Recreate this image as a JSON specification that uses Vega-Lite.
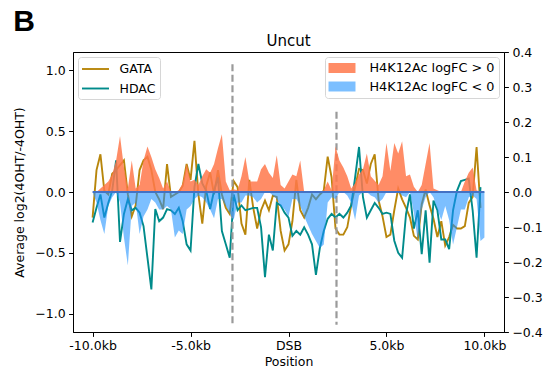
{
  "$schema": "https://vega.github.io/schema/vega-lite/v6.json",
  "autosize": {"type": "pad"},
  "padding": {"left": 13, "top": 6, "right": 0, "bottom": 0},
  "title": {"text": "B", "anchor": "start", "frame": "bounds", "font": "Liberation Sans", "fontSize": 30, "fontWeight": "bold", "color": "#000", "offset": -3},
  "config": {
    "font": "DejaVu Sans",
    "view": {"stroke": "#000", "strokeWidth": 1},
    "axis": {"labelFont": "DejaVu Sans", "labelFontSize": 12.5, "labelColor": "#000", "titleFont": "DejaVu Sans", "titleFontSize": 12.5, "titleFontWeight": "normal", "titleColor": "#000", "domainColor": "#000", "domainWidth": 1, "tickColor": "#000", "tickWidth": 1, "tickSize": 4.4, "labelPadding": 3.5, "grid": false, "labelOverlap": false, "labelFlush": false},
    "legend": {"labelFont": "DejaVu Sans", "labelFontSize": 12.5, "labelColor": "#000", "strokeColor": "#d6d6d6", "strokeWidth": 1, "cornerRadius": 3, "fillColor": "rgba(255,255,255,0.8)", "padding": 4, "offset": 5, "rowPadding": 4.5, "symbolOffset": 6}
  },
  "datasets": {
    "profile": [
      {"x": -10000, "GATA": -0.21, "HDAC": -0.25, "pos": 0, "neg": 0},
      {"x": -9800, "GATA": 0.18, "HDAC": -0.13, "pos": 0, "neg": -0.03},
      {"x": -9600, "GATA": 0.31, "HDAC": -0.02, "pos": 0.01, "neg": -0.08},
      {"x": -9400, "GATA": 0.01, "HDAC": -0.21, "pos": 0.02, "neg": -0.12},
      {"x": -9200, "GATA": -0.02, "HDAC": -0.09, "pos": 0.03, "neg": -0.04},
      {"x": -9000, "GATA": 0.15, "HDAC": 0.01, "pos": 0.05, "neg": -0.015},
      {"x": -8800, "GATA": 0.18, "HDAC": 0.26, "pos": 0.09, "neg": 0},
      {"x": -8600, "GATA": 0.22, "HDAC": -0.41, "pos": 0.16, "neg": -0.03},
      {"x": -8400, "GATA": 0.26, "HDAC": -0.18, "pos": 0.07, "neg": -0.13},
      {"x": -8200, "GATA": -0.02, "HDAC": -0.06, "pos": 0.01, "neg": -0.21},
      {"x": -8000, "GATA": -0.2, "HDAC": -0.15, "pos": 0.09, "neg": -0.04},
      {"x": -7800, "GATA": -0.11, "HDAC": -0.13, "pos": 0.01, "neg": -0.03},
      {"x": -7600, "GATA": 0.18, "HDAC": -0.17, "pos": 0.02, "neg": -0.12},
      {"x": -7400, "GATA": 0.26, "HDAC": -0.28, "pos": 0.09, "neg": -0.07},
      {"x": -7200, "GATA": 0.29, "HDAC": -0.54, "pos": 0.13, "neg": -0.05},
      {"x": -7000, "GATA": 0.18, "HDAC": -0.8, "pos": 0.1, "neg": -0.02},
      {"x": -6800, "GATA": 0.0, "HDAC": -0.14, "pos": 0.065, "neg": -0.03},
      {"x": -6600, "GATA": -0.06, "HDAC": -0.24, "pos": 0.04, "neg": -0.05},
      {"x": -6400, "GATA": -0.14, "HDAC": -0.21, "pos": 0.01, "neg": -0.05},
      {"x": -6200, "GATA": 0.23, "HDAC": -0.14, "pos": 0.03, "neg": -0.04},
      {"x": -6000, "GATA": -0.04, "HDAC": -0.15, "pos": 0, "neg": -0.05},
      {"x": -5800, "GATA": -0.02, "HDAC": -0.18, "pos": 0, "neg": -0.13},
      {"x": -5600, "GATA": 0.0, "HDAC": -0.13, "pos": 0.005, "neg": -0.11},
      {"x": -5400, "GATA": 0.05, "HDAC": -0.24, "pos": 0.025, "neg": -0.12},
      {"x": -5200, "GATA": 0.23, "HDAC": -0.43, "pos": 0.08, "neg": -0.05},
      {"x": -5000, "GATA": 0.1, "HDAC": -0.48, "pos": 0.03, "neg": -0.04},
      {"x": -4800, "GATA": 0.42, "HDAC": 0.04, "pos": 0.035, "neg": -0.02},
      {"x": -4600, "GATA": -0.02, "HDAC": 0.23, "pos": 0.02, "neg": -0.01},
      {"x": -4400, "GATA": -0.26, "HDAC": 0.07, "pos": 0.045, "neg": -0.015},
      {"x": -4200, "GATA": 0.05, "HDAC": 0.01, "pos": 0.065, "neg": -0.03},
      {"x": -4000, "GATA": 0.16, "HDAC": -0.14, "pos": 0.055, "neg": -0.05},
      {"x": -3800, "GATA": -0.02, "HDAC": 0.01, "pos": 0.08, "neg": -0.075},
      {"x": -3600, "GATA": 0.18, "HDAC": 0.12, "pos": 0.125, "neg": -0.02},
      {"x": -3400, "GATA": -0.02, "HDAC": -0.32, "pos": 0.165, "neg": -0.02},
      {"x": -3200, "GATA": -0.13, "HDAC": -0.43, "pos": 0.03, "neg": -0.04},
      {"x": -3000, "GATA": -0.18, "HDAC": -0.54, "pos": 0.005, "neg": -0.06},
      {"x": -2800, "GATA": 0.09, "HDAC": -0.02, "pos": 0.008, "neg": -0.08},
      {"x": -2600, "GATA": 0.04, "HDAC": -0.15, "pos": 0.005, "neg": -0.03},
      {"x": -2400, "GATA": -0.26, "HDAC": -0.11, "pos": 0.045, "neg": -0.03},
      {"x": -2200, "GATA": -0.35, "HDAC": -0.15, "pos": 0.1, "neg": -0.01},
      {"x": -2000, "GATA": 0.1, "HDAC": -0.14, "pos": 0.03, "neg": -0.01},
      {"x": -1800, "GATA": -0.13, "HDAC": -0.13, "pos": 0.03, "neg": -0.015},
      {"x": -1600, "GATA": -0.3, "HDAC": -0.13, "pos": 0.03, "neg": -0.03},
      {"x": -1400, "GATA": -0.15, "HDAC": -0.29, "pos": 0.065, "neg": -0.02},
      {"x": -1200, "GATA": -0.07, "HDAC": -0.7, "pos": 0.08, "neg": 0},
      {"x": -1000, "GATA": -0.15, "HDAC": -0.35, "pos": 0.055, "neg": 0},
      {"x": -800, "GATA": -0.03, "HDAC": -0.48, "pos": 0.04, "neg": -0.01},
      {"x": -600, "GATA": -0.04, "HDAC": -0.09, "pos": 0.105, "neg": -0.02},
      {"x": -400, "GATA": -0.32, "HDAC": -0.11, "pos": 0.02, "neg": -0.04},
      {"x": -200, "GATA": -0.48, "HDAC": -0.17, "pos": 0.01, "neg": -0.05},
      {"x": 0, "GATA": -0.43, "HDAC": -0.21, "pos": 0.03, "neg": -0.07},
      {"x": 200, "GATA": -0.24, "HDAC": -0.36, "pos": 0.05, "neg": -0.02},
      {"x": 400, "GATA": 0.1, "HDAC": -0.32, "pos": 0.045, "neg": -0.02},
      {"x": 600, "GATA": -0.15, "HDAC": -0.35, "pos": 0.09, "neg": -0.04},
      {"x": 800, "GATA": -0.21, "HDAC": -0.29, "pos": 0, "neg": -0.07},
      {"x": 1000, "GATA": -0.13, "HDAC": -0.35, "pos": 0, "neg": -0.095},
      {"x": 1200, "GATA": -0.02, "HDAC": -0.43, "pos": 0, "neg": -0.12},
      {"x": 1400, "GATA": -0.06, "HDAC": -0.68, "pos": 0, "neg": -0.14},
      {"x": 1600, "GATA": -0.02, "HDAC": -0.46, "pos": 0, "neg": -0.16},
      {"x": 1800, "GATA": 0.01, "HDAC": -0.32, "pos": 0.005, "neg": -0.15},
      {"x": 2000, "GATA": 0.29, "HDAC": -0.22, "pos": 0.03, "neg": -0.03},
      {"x": 2200, "GATA": 0.12, "HDAC": -0.18, "pos": 0.005, "neg": -0.015},
      {"x": 2400, "GATA": -0.3, "HDAC": -0.21, "pos": 0.13, "neg": -0.02},
      {"x": 2600, "GATA": -0.35, "HDAC": -0.18, "pos": 0.09, "neg": 0},
      {"x": 2800, "GATA": -0.35, "HDAC": -0.21, "pos": 0.07, "neg": 0},
      {"x": 3000, "GATA": -0.29, "HDAC": -0.17, "pos": 0.045, "neg": -0.01},
      {"x": 3200, "GATA": -0.11, "HDAC": -0.11, "pos": 0.01, "neg": -0.03},
      {"x": 3400, "GATA": 0.04, "HDAC": 0.12, "pos": 0.025, "neg": -0.08},
      {"x": 3600, "GATA": 0.19, "HDAC": 0.37, "pos": 0.05, "neg": -0.01},
      {"x": 3800, "GATA": 0.18, "HDAC": -0.04, "pos": 0.065, "neg": 0},
      {"x": 4000, "GATA": 0.07, "HDAC": -0.21, "pos": 0.11, "neg": 0},
      {"x": 4200, "GATA": 0.23, "HDAC": -0.15, "pos": 0.045, "neg": -0.01},
      {"x": 4400, "GATA": 0.31, "HDAC": -0.09, "pos": 0.032, "neg": -0.015},
      {"x": 4600, "GATA": -0.07, "HDAC": -0.13, "pos": 0.02, "neg": -0.03},
      {"x": 4800, "GATA": -0.2, "HDAC": -0.18, "pos": 0.045, "neg": -0.02},
      {"x": 5000, "GATA": -0.37, "HDAC": -0.17, "pos": 0.14, "neg": 0},
      {"x": 5200, "GATA": -0.35, "HDAC": -0.18, "pos": 0.06, "neg": 0},
      {"x": 5400, "GATA": -0.15, "HDAC": -0.4, "pos": 0.14, "neg": 0},
      {"x": 5600, "GATA": 0.03, "HDAC": -0.5, "pos": 0.11, "neg": 0},
      {"x": 5800, "GATA": -0.06, "HDAC": -0.54, "pos": 0.145, "neg": -0.01},
      {"x": 6000, "GATA": -0.13, "HDAC": -0.18, "pos": 0.045, "neg": -0.015},
      {"x": 6200, "GATA": -0.21, "HDAC": -0.02, "pos": 0.05, "neg": 0},
      {"x": 6400, "GATA": -0.36, "HDAC": -0.3, "pos": 0.015, "neg": -0.06},
      {"x": 6600, "GATA": -0.39, "HDAC": -0.15, "pos": 0, "neg": -0.14},
      {"x": 6800, "GATA": -0.1, "HDAC": -0.51, "pos": 0.02, "neg": -0.05},
      {"x": 7000, "GATA": 0.02, "HDAC": -0.15, "pos": 0.08, "neg": -0.015},
      {"x": 7200, "GATA": -0.11, "HDAC": -0.58, "pos": 0.14, "neg": 0},
      {"x": 7400, "GATA": -0.22, "HDAC": -0.07, "pos": 0.01, "neg": -0.015},
      {"x": 7600, "GATA": -0.37, "HDAC": -0.15, "pos": 0.005, "neg": -0.05},
      {"x": 7800, "GATA": -0.24, "HDAC": -0.39, "pos": 0, "neg": -0.08},
      {"x": 8000, "GATA": -0.44, "HDAC": -0.39, "pos": 0, "neg": -0.04},
      {"x": 8200, "GATA": -0.37, "HDAC": -0.47, "pos": 0, "neg": -0.08},
      {"x": 8400, "GATA": -0.27, "HDAC": -0.15, "pos": 0, "neg": -0.15},
      {"x": 8600, "GATA": -0.3, "HDAC": 0.01, "pos": 0, "neg": -0.1},
      {"x": 8800, "GATA": -0.3, "HDAC": 0.09, "pos": 0, "neg": -0.05},
      {"x": 9000, "GATA": -0.28, "HDAC": 0.1, "pos": 0.03, "neg": -0.05},
      {"x": 9200, "GATA": -0.09, "HDAC": 0.11, "pos": 0.055, "neg": -0.015},
      {"x": 9400, "GATA": -0.04, "HDAC": -0.15, "pos": 0.07, "neg": -0.01},
      {"x": 9600, "GATA": 0.37, "HDAC": -0.54, "pos": 0.005, "neg": -0.02},
      {"x": 9800, "GATA": -0.13, "HDAC": 0.04, "pos": 0, "neg": -0.14},
      {"x": 10000, "GATA": null, "HDAC": null, "pos": 0, "neg": -0.13}
    ],
    "dsb": [
      {"pos": -2860, "top": 1.05, "bottom": -1.09},
      {"pos": 2450, "top": 0.66, "bottom": -1.09}
    ]
  },
  "vconcat": [
    {
      "width": 431,
      "height": 280,
      "title": {"text": "Uncut", "font": "DejaVu Sans", "fontSize": 15, "fontWeight": "normal", "color": "#000", "offset": -3},
      "resolve": {"scale": {"y": "independent"}},
      "layer": [
        {
          "layer": [
            {
              "data": {"name": "profile"},
              "transform": [{"fold": ["GATA", "HDAC"], "as": ["series", "value"]}],
              "mark": {"type": "line", "strokeWidth": 1.9},
              "encoding": {
                "x": {"field": "x", "type": "quantitative", "scale": {"domain": [-11000, 11000], "nice": false, "zero": false}, "axis": {"values": [-10000, -5000, 0, 5000, 10000], "labelExpr": "datum.value == 0 ? 'DSB' : (datum.value < 0 ? '-' : '') + format(abs(datum.value) / 1000, '.1f') + 'kb'", "title": "Position", "titlePadding": 3}},
                "y": {"field": "value", "type": "quantitative", "scale": {"domain": [-1.15, 1.15], "nice": false, "zero": false}, "axis": {"orient": "left", "values": [-1, -0.5, 0, 0.5, 1], "format": ".1f", "title": "Average log2(4OHT/-4OHT)", "titlePadding": 8}},
                "color": {"field": "series", "type": "nominal", "scale": {"domain": ["GATA", "HDAC"], "range": ["#b8860b", "#008b8b"]}, "legend": {"title": null, "orient": "top-left", "symbolType": "M-2,0H2", "symbolSize": 182, "symbolStrokeWidth": 1.9, "symbolOffset": 5.5, "labelOffset": 16}}
              }
            },
            {
              "data": {"name": "dsb"},
              "mark": {"type": "rule", "color": "#9a9a9a", "strokeWidth": 2.2, "strokeDash": [7, 3.5]},
              "encoding": {
                "x": {"field": "pos", "type": "quantitative", "scale": {"domain": [-11000, 11000], "nice": false, "zero": false}, "axis": {"values": [-10000, -5000, 0, 5000, 10000], "labelExpr": "datum.value == 0 ? 'DSB' : (datum.value < 0 ? '-' : '') + format(abs(datum.value) / 1000, '.1f') + 'kb'", "title": "Position", "titlePadding": 3}},
                "y": {"field": "top", "type": "quantitative", "scale": {"domain": [-1.15, 1.15], "nice": false, "zero": false}, "axis": {"orient": "left", "values": [-1, -0.5, 0, 0.5, 1], "format": ".1f", "title": "Average log2(4OHT/-4OHT)", "titlePadding": 8}},
                "y2": {"field": "bottom"}
              }
            }
          ]
        },
        {
          "layer": [
            {
              "data": {"name": "profile"},
              "transform": [{"fold": ["pos", "neg"], "as": ["kind", "h"]}],
              "mark": {"type": "area", "interpolate": "linear"},
              "encoding": {
                "x": {"field": "x", "type": "quantitative", "scale": {"domain": [-11000, 11000], "nice": false, "zero": false}, "axis": {"values": [-10000, -5000, 0, 5000, 10000], "labelExpr": "datum.value == 0 ? 'DSB' : (datum.value < 0 ? '-' : '') + format(abs(datum.value) / 1000, '.1f') + 'kb'", "title": "Position", "titlePadding": 3}},
                "y": {"field": "h", "type": "quantitative", "stack": null, "scale": {"domain": [-0.4, 0.4], "nice": false}, "axis": {"orient": "right", "values": [-0.4, -0.3, -0.2, -0.1, 0, 0.1, 0.2, 0.3, 0.4], "format": ".1f", "title": null}},
                "fill": {"field": "kind", "type": "nominal", "scale": {"domain": ["pos", "neg"], "range": ["rgba(255,120,75,0.85)", "rgba(30,144,255,0.58)"]}, "legend": {"title": null, "orient": "top-right", "symbolType": "M-2,-0.74H2V0.74H-2Z", "symbolSize": 182, "symbolStrokeWidth": 0, "symbolOffset": 6, "labelOffset": 20.5, "labelFontSize": 12.8, "labelExpr": "datum.label == 'pos' ? 'H4K12Ac logFC > 0' : 'H4K12Ac logFC < 0'"}}
              }
            },
            {
              "data": {"values": [{}]},
              "mark": {"type": "rule", "color": "#4472c4", "strokeWidth": 1.9},
              "encoding": {
                "x": {"datum": -10000, "type": "quantitative", "scale": {"domain": [-11000, 11000], "nice": false, "zero": false}, "axis": {"values": [-10000, -5000, 0, 5000, 10000], "labelExpr": "datum.value == 0 ? 'DSB' : (datum.value < 0 ? '-' : '') + format(abs(datum.value) / 1000, '.1f') + 'kb'", "title": "Position", "titlePadding": 3}},
                "x2": {"datum": 10000},
                "y": {"datum": 0, "type": "quantitative", "scale": {"domain": [-0.4, 0.4], "nice": false}, "axis": {"orient": "right", "values": [-0.4, -0.3, -0.2, -0.1, 0, 0.1, 0.2, 0.3, 0.4], "format": ".1f", "title": null}}
              }
            }
          ]
        }
      ]
    }
  ]
}
